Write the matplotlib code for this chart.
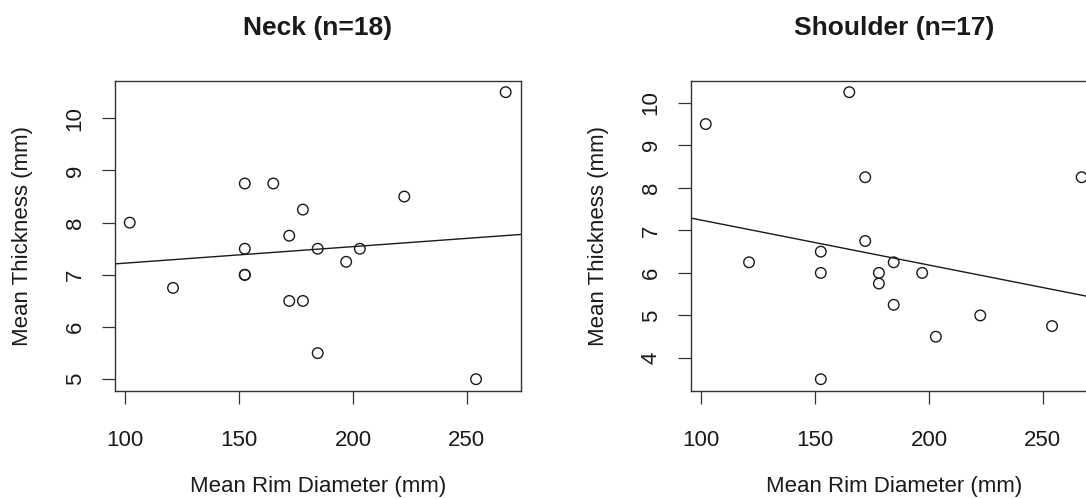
import numpy as np
import matplotlib
matplotlib.use('Agg')
import matplotlib.pyplot as plt

plt.rcParams['font.family'] = ['Liberation Sans', 'DejaVu Sans']

# ── Data ───────────────────────────────────────────────────────────────────
rim_neck = [102, 121, 152.5, 152.5, 152.5, 152.5, 165, 172, 172, 178, 178,
            184.5, 184.5, 197, 203, 222.5, 254, 267]
thick_neck = [8.0, 6.75, 8.75, 7.5, 7.0, 7.0, 8.75, 7.75, 6.5, 8.25, 6.5,
              7.5, 5.5, 7.25, 7.5, 8.5, 5.0, 10.5]

rim_shoulder = [102, 121, 152.5, 152.5, 152.5, 165, 172, 172, 178, 178,
                184.5, 184.5, 197, 203, 222.5, 254, 267]
thick_shoulder = [9.5, 6.25, 6.5, 6.0, 3.5, 10.25, 8.25, 6.75, 6.0, 5.75,
                  6.25, 5.25, 6.0, 4.5, 5.0, 4.75, 8.25]

titles = ['Neck (n=18)', 'Shoulder (n=17)']
x_ticks = [100, 150, 200, 250]
y_ticks_neck = [5, 6, 7, 8, 9, 10]
y_ticks_shoulder = [4, 5, 6, 7, 8, 9, 10]

W, H = 1086, 499
INK = '#1a1a1a'


def r_lim(v):
    # R's default 4% range extension
    lo, hi = min(v), max(v)
    d = (hi - lo) * 0.04
    return lo - d, hi + d


def panel(fig, left_px, x, y, title, yticks):
    box_w, box_h = 406, 310
    ax = fig.add_axes([left_px / W, (H - 390.7) / H, box_w / W, box_h / H])
    xlim, ylim = r_lim(x), r_lim(y)
    ax.set_xlim(xlim)
    ax.set_ylim(ylim)

    ax.scatter(x, y, s=58, facecolors='none', edgecolors=INK,
               linewidths=1.0, zorder=3)

    slope, icpt = np.polyfit(x, y, 1)
    xx = np.array(xlim)
    ax.plot(xx, icpt + slope * xx, color=INK, lw=1.0, zorder=2)

    for s in ax.spines.values():
        s.set_color('#333333')
        s.set_linewidth(1.0)

    ax.set_xticks(x_ticks)
    ax.set_yticks(yticks)
    ax.tick_params(direction='out', length=9.5, width=0.9, color='#333333',
                   labelsize=16, labelcolor=INK)
    ax.tick_params(axis='x', pad=18.5)
    ax.tick_params(axis='y', pad=19)
    for lab in ax.get_yticklabels():
        lab.set_rotation(90)
        lab.set_ha('center')
        lab.set_va('center')

    ax.text(0.5, 1 + 52.7 / box_h, title, transform=ax.transAxes,
            ha='center', va='center', fontsize=19, fontweight='bold', color=INK)
    ax.text(0.5, -96 / box_h, 'Mean Rim Diameter (mm)', transform=ax.transAxes,
            ha='center', va='center', fontsize=16, color=INK)
    ax.text(-92 / box_w, 0.5, 'Mean Thickness (mm)', transform=ax.transAxes,
            ha='center', va='center', rotation=90, fontsize=16, color=INK)
    return ax


fig = plt.figure(figsize=(W / 100, H / 100), dpi=100)
panel(fig, 114.7, rim_neck, thick_neck, titles[0], y_ticks_neck)
panel(fig, 690.7, rim_shoulder, thick_shoulder, titles[1], y_ticks_shoulder)

fig.savefig('out.png', dpi=100, facecolor='white')
